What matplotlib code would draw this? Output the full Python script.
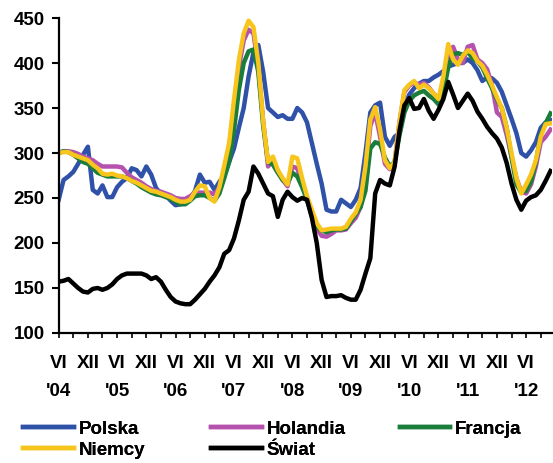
import numpy as np
import matplotlib.pyplot as plt

plt.rcParams['font.family'] = ['Liberation Sans', 'DejaVu Sans']
plt.rcParams['font.weight'] = 'bold'

# monthly index, first point = June 2004
polska = [248, 270, 274, 279, 288, 298, 307, 259, 255, 264, 251, 251, 262, 268, 272, 283, 281, 274, 285, 276,
          261, 255, 253, 247, 242, 243, 247, 249, 258, 276, 267, 268, 259, 268, 275,
          290, 305, 328, 350, 385, 412, 420, 390, 350, 345, 340, 342, 338, 338, 350, 345, 334, 311, 288, 266,
          237, 235, 235, 248, 244, 240, 248, 261, 300, 345, 353, 356,
          318, 308, 318, 322, 350, 365, 372, 377, 380, 380, 384, 387, 391, 396, 398, 400, 400, 404, 400,
          392, 380, 384, 383, 378, 368, 353, 338, 322, 300, 296, 303, 312, 328, 334, 336]
holandia = [300, 302, 302, 301, 299, 296, 294, 292, 288, 285, 285, 285, 285, 284, 278, 273, 270, 267, 263, 260,
            258, 257, 255, 253, 250, 249, 249, 252, 256, 256, 256, 256, 254, 262, 280,
            305, 350, 395, 425, 437, 433, 395, 335, 285, 293, 280, 270, 263, 285, 283, 265, 250, 232, 216, 208,
            207, 210, 214, 214, 215, 222, 228, 240, 275, 330, 345, 318, 288,
            282, 290, 335, 368, 375, 378, 376, 378, 373, 366, 360, 375, 408, 418, 404, 400, 418, 420,
            404, 400, 393, 375, 345, 340, 320, 296, 272, 257, 255, 265, 285, 312, 318, 326]
francja = [300, 302, 301, 298, 294, 290, 288, 283, 278, 276, 274, 274, 274, 274, 272, 269, 266, 262, 259, 256,
           254, 253, 251, 249, 246, 243, 243, 247, 252, 253, 253, 250, 247, 255, 272,
           290, 325, 370, 400, 413, 415, 390, 330, 290, 287, 278, 270, 266, 278, 274, 262, 248, 230, 218, 214,
           212, 214, 215, 215, 216, 224, 232, 240, 258, 305, 312, 310, 295,
           285, 290, 320, 345, 358, 364, 367, 369, 364, 360, 354, 367, 395, 410, 411, 409, 413, 405,
           402, 395, 383, 372, 360, 350, 328, 295, 265, 256, 258, 268, 290, 320, 333, 344]
niemcy = [300, 301, 301, 298, 296, 294, 292, 287, 283, 277, 276, 277, 275, 274, 272, 269, 267, 264, 261, 258,
          257, 255, 253, 251, 248, 246, 246, 248, 257, 264, 263, 250, 246, 262, 286,
          311, 359, 403, 433, 447, 440, 400, 335, 290, 296, 281, 272, 265, 296, 294, 272, 252, 237, 222, 214,
          215, 216, 216, 216, 218, 227, 234, 248, 285, 337, 351, 326, 292,
          283, 290, 335, 370, 376, 380, 372, 376, 372, 366, 360, 385, 421, 404, 398, 408, 414, 411,
          402, 397, 387, 375, 362, 350, 328, 300, 272, 255, 265, 276, 292, 318, 332, 333]
swiat = [157, 158, 160, 155, 150, 146, 145, 149, 150, 148, 150, 154, 160, 164, 166, 166, 166, 166, 164, 160,
         162, 157, 148, 140, 135, 133, 132, 132, 137, 143, 149, 157, 164, 173, 188,
         192, 205, 225, 248, 257, 285, 277, 266, 255, 252, 229, 248, 257, 251, 247, 250, 248, 228, 200, 159,
         140, 141, 141, 142, 139, 137, 137, 148, 166, 183, 255, 270, 266,
         264, 285, 325, 353, 361, 349, 350, 360, 347, 338, 348, 360, 379, 365, 350, 358, 366, 358,
         346, 338, 329, 322, 316, 306, 289, 266, 248, 237, 247, 251, 253, 259, 269, 280]

names = ['Polska', 'Holandia', 'Francja', 'Niemcy', 'Świat']
values = [polska, holandia, francja, niemcy, swiat]
colors = ['#2F52A8', '#B552AE', '#1B7D3C', '#F7C51C', '#000000']

years = ['04', '05', '06', '07', '08', '09', '10', '11', '12']

x = np.arange(len(polska))

fig = plt.figure(figsize=(5.53, 4.63), dpi=100)
ax = fig.add_axes([0.1061, 0.2808, 0.892, 0.6803])

lines = {}
for name, vals, col in zip(names, values, colors):
    ln, = ax.plot(x, vals, color=col, lw=3.2, solid_joinstyle='round', label=name)
    lines[name] = ln

ax.set_ylim(100, 450)
ax.set_xlim(0, 101.3)
ax.set_yticks(np.arange(100, 451, 50))

ticks = np.arange(0, 100, 3)
labels = []
for m in ticks:
    if m % 12 == 0:
        labels.append("VI\n'" + years[m // 12])
    elif m % 6 == 0:
        labels.append('XII')
    else:
        labels.append('')
ax.set_xticks(ticks)
ax.set_xticklabels(labels)
for t in ax.get_xticklabels():
    t.set_linespacing(1.85)

for s in ['top', 'right']:
    ax.spines[s].set_visible(False)
for s in ['left', 'bottom']:
    ax.spines[s].set_linewidth(1.6)

ax.tick_params(axis='y', length=5, width=1.5, pad=5, labelsize=13.5)
ax.tick_params(axis='x', length=3.6, width=1.2, pad=12, labelsize=13.5)

# legend: three columns laid out separately
columns = [['Polska', 'Niemcy'], ['Holandia', 'Świat'], ['Francja']]
col_x = [0.042, 0.382, 0.723]
for cx, group in zip(col_x, columns):
    leg = fig.legend([lines[n] for n in group], group, loc='upper left',
                     bbox_to_anchor=(cx, 0.091), frameon=False, fontsize=13.5,
                     handlelength=2.7, handletextpad=0.25, labelspacing=0.2,
                     borderpad=0, borderaxespad=0)
    fig.add_artist(leg)

fig.savefig('out.png', dpi=100)
